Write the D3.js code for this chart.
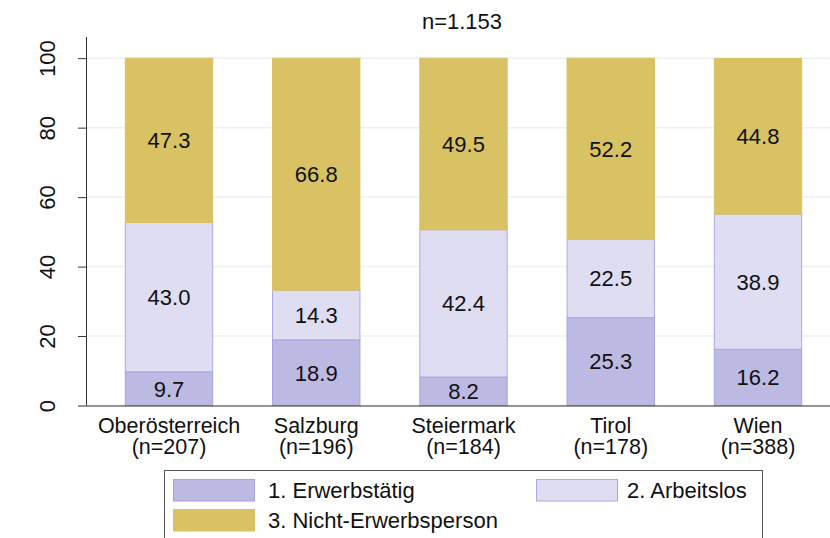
<!DOCTYPE html>
<html>
<head>
<meta charset="utf-8">
<script src="https://cdn.jsdelivr.net/npm/d3@7"></script>
<style>
  body { margin: 0; background: #fff; }
  svg text { font-family: "Liberation Sans", Arial, sans-serif; fill: #111; }
</style>
</head>
<body>
<div class="svg"></div>
<script>
'use strict';

var regions = ['Oberösterreich', 'Salzburg', 'Steiermark', 'Tirol', 'Wien'];
var regionN = ['(n=207)', '(n=196)', '(n=184)', '(n=178)', '(n=388)'];
var seriesNames = ['1. Erwerbstätig', '2. Arbeitslos', '3. Nicht-Erwerbsperson'];
var erwerbstaetig = [9.7, 18.9, 8.2, 25.3, 16.2];
var arbeitslos = [43.0, 14.3, 42.4, 22.5, 38.9];
var nichtErwerb = [47.3, 66.8, 49.5, 52.2, 44.8];
var yTicks = [0, 20, 40, 60, 80, 100];
var title = 'n=1.153';

var fills = ['#bcbae3', '#dfddf2', '#d8c264'];
var strokes = ['#a5a1e2', '#aba7e6', '#d8c264'];

var width = 830, height = 538;
var fontSize = 22;

var rows = regions.map(function (r, i) {
    return { region: r, s0: erwerbstaetig[i], s1: arbeitslos[i], s2: nichtErwerb[i] };
});
var stack = d3.stack().keys(['s0', 's1', 's2']);
var layers = stack(rows);

var svg = d3.select('div.svg').append('svg')
    .attr('width', width)
    .attr('height', height);

var xScale = d3.scaleBand()
    .domain(regions)
    .range([88, 839])
    .paddingInner(0.4)
    .paddingOuter(0.25);

var yScale = d3.scaleLinear()
    .domain([0, 106.1])
    .range([405.5, 37]);

// grid lines
svg.append('g').selectAll('line')
    .data(yTicks)
    .enter().append('line')
    .attr('x1', 86)
    .attr('x2', width)
    .attr('y1', function (d) { return yScale(d); })
    .attr('y2', function (d) { return yScale(d); })
    .attr('stroke', '#eaf2f3')
    .attr('stroke-width', 1.5);

// bars
var layerG = svg.append('g').selectAll('g')
    .data(layers)
    .enter().append('g')
    .attr('fill', function (d, i) { return fills[i]; })
    .attr('stroke', function (d, i) { return strokes[i]; });

layerG.selectAll('rect')
    .data(function (d) { return d; })
    .enter().append('rect')
    .attr('x', function (d) { return xScale(d.data.region) + 0.5; })
    .attr('width', xScale.bandwidth() - 1)
    .attr('y', function (d) { return yScale(Math.min(d[1], 100)); })
    .attr('height', function (d) { return yScale(d[0]) - yScale(Math.min(d[1], 100)); })
    .attr('stroke-width', 1);

// value labels
layerG.selectAll('text')
    .data(function (d) { return d; })
    .enter().append('text')
    .attr('stroke', 'none')
    .attr('text-anchor', 'middle')
    .attr('dy', '0.36em')
    .attr('font-size', fontSize)
    .attr('x', function (d) { return xScale(d.data.region) + xScale.bandwidth() / 2; })
    .attr('y', function (d) { return yScale((d[0] + Math.min(d[1], 100)) / 2); })
    .text(function (d) { return (d[1] - d[0]).toFixed(1); });

// y axis
var yAxis = d3.axisLeft(yScale).tickValues(yTicks).tickSize(8).tickPadding(31);
var yAx = svg.append('g')
    .attr('transform', 'translate(86,0)')
    .call(yAxis);
yAx.select('.domain').attr('stroke', '#333').attr('d', 'M0.5,' + yScale(0) + 'V' + yScale(106.1));
yAx.selectAll('.tick line').attr('stroke', '#333');
yAx.selectAll('.tick text')
    .attr('font-size', fontSize)
    .attr('font-family', '"Liberation Sans", Arial, sans-serif')
    .attr('fill', '#111')
    .attr('text-anchor', 'middle')
    .attr('x', 0)
    .attr('dy', 0)
    .attr('transform', 'translate(-31,0) rotate(-90)');

// x axis, two-line category labels
var xAxis = d3.axisBottom(xScale).tickSize(0).tickPadding(0);
var xAx = svg.append('g')
    .attr('transform', 'translate(0,' + yScale(0) + ')')
    .call(xAxis);
xAx.select('.domain').attr('stroke', '#333').attr('d', 'M86,0.5H' + width);
xAx.selectAll('.tick text').remove();
xAx.selectAll('.tick').each(function (d, i) {
    var g = d3.select(this);
    g.append('text')
        .attr('text-anchor', 'middle')
        .attr('font-size', 21.5)
        .attr('font-family', '"Liberation Sans", Arial, sans-serif')
        .attr('fill', '#111')
        .attr('y', 27.5)
        .text(d);
    g.append('text')
        .attr('text-anchor', 'middle')
        .attr('font-size', 21.5)
        .attr('font-family', '"Liberation Sans", Arial, sans-serif')
        .attr('fill', '#111')
        .attr('y', 48.5)
        .text(regionN[i]);
});

// title
svg.append('text')
    .attr('x', 462)
    .attr('y', 29)
    .attr('text-anchor', 'middle')
    .attr('font-size', fontSize)
    .text(title);

// legend
var legend = svg.append('g');
legend.append('rect')
    .attr('x', 164.5)
    .attr('y', 470.5)
    .attr('width', 598)
    .attr('height', 80)
    .attr('fill', '#fff')
    .attr('stroke', '#555')
    .attr('stroke-width', 1);

var legendPos = [
    { x: 173, y: 479 },
    { x: 536, y: 479 },
    { x: 173, y: 509 }
];
var legItems = legend.selectAll('g.item')
    .data(seriesNames)
    .enter().append('g')
    .attr('class', 'item')
    .attr('transform', function (d, i) {
        return 'translate(' + legendPos[i].x + ',' + legendPos[i].y + ')';
    });
legItems.append('rect')
    .attr('x', 0.5)
    .attr('y', 0.5)
    .attr('width', 81)
    .attr('height', 21.5)
    .attr('fill', function (d, i) { return fills[i]; })
    .attr('stroke', function (d, i) { return strokes[i]; });
legItems.append('text')
    .attr('x', function (d, i) { return i === 1 ? 91 : 95; })
    .attr('y', 11)
    .attr('dy', '0.36em')
    .attr('font-size', fontSize)
    .text(function (d) { return d; });
</script>
</body>
</html>
